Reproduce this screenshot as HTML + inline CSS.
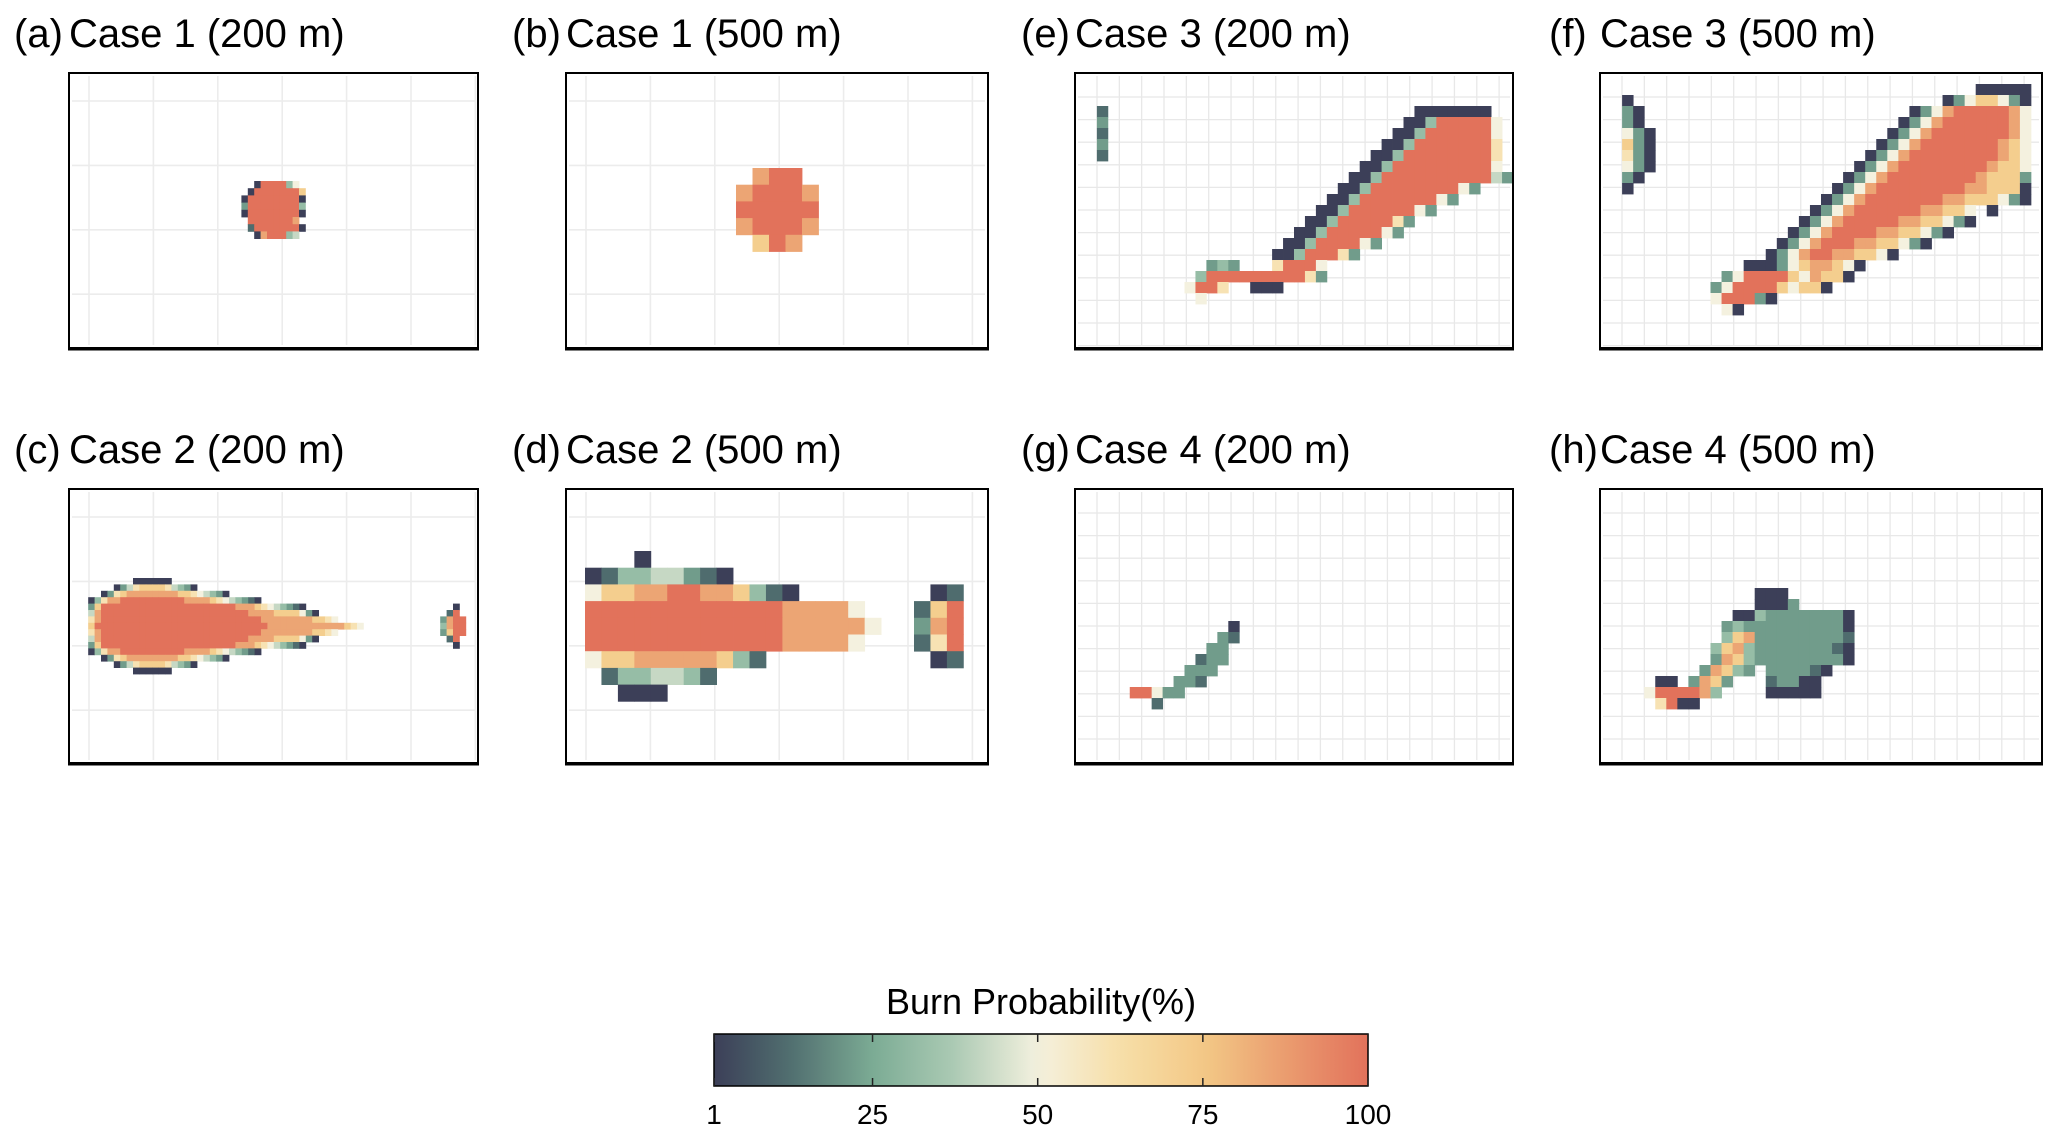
<!DOCTYPE html>
<html><head><meta charset="utf-8"><title>Burn probability panels</title>
<style>
html,body{margin:0;padding:0;background:#fff;}
svg{display:block;font-family:"Liberation Sans",Arial,sans-serif;}
</style></head>
<body>
<svg id="fig" width="2067" height="1141" viewBox="0 0 2067 1141" xmlns="http://www.w3.org/2000/svg">
<rect x="0" y="0" width="2067" height="1141" fill="#fff"/>
<defs>
<linearGradient id="cbgrad" x1="0" x2="1" y1="0" y2="0"></linearGradient>
</defs>
</svg>
<script>
// ---- data: colour scale ----
const colorStopValues = [1, 12, 25, 37, 50, 62, 75, 87, 100];
const colorStopColors = ["#3c3f58", "#4f6c6e", "#7bab94", "#aac9b3", "#f4f1df", "#f7dfaa", "#f3c986", "#eb9e70", "#e2725b"];
const codeKeys = ["0","1","2","3","4","5","6","7","8","9"];
const codeValues = [1, 12, 22, 32, 42, 50, 60, 72, 85, 100];
const colorbarTicks = [1, 25, 50, 75, 100];
const colorbarTitle = "Burn Probability(%)";

// ---- data: panel titles ----
const panelLetters = ["(a)","(b)","(e)","(f)","(c)","(d)","(g)","(h)"];
const panelTitles = ["Case 1 (200 m)","Case 1 (500 m)","Case 3 (200 m)","Case 3 (500 m)","Case 2 (200 m)","Case 2 (500 m)","Case 4 (200 m)","Case 4 (500 m)"];

// ---- data: burn probability cells as runs [row, col, codes] ----
const cellsA = [
 [0,3,"0999935"],[1,2,"099999997"],[2,1,"0999999990"],[3,1,"2999999993"],[4,1,"0999999990"],
 [5,2,"99999998"],[6,2,"199999990"],[7,3,"0899934"]
];
const cellsB = [
 [0,1,"899"],[1,0,"89998"],[2,0,"99999"],[3,0,"89998"],[4,1,"798"]
];
const cellsC = [
 [0,10,"000000"],[1,7,"0246777764320"],[2,5,"02678888888877654320"],
 [3,3,"036889999999999888876543210"],[4,3,"2799999999999999999999988876543210"],
 [5,3,"489999999999999999999999988887777520"],[6,3,"689999999999999999999999999888888887765"],
 [7,3,"7999999999999999999999999999888888888888765"],
 [8,3,"689999999999999999999999999888888887765"],[9,3,"489999999999999999999999988887777520"],
 [10,3,"2799999999999999999999988876543210"],[11,3,"036889999999999888876543210"],
 [12,5,"02678888888877654320"],[13,7,"0246777764320"],[14,10,"000000"],
 [4,60,"0"],[5,59,"19"],[6,58,"2899"],[7,58,"3899"],[8,58,"2799"],[9,59,"19"],[10,60,"0"]
];
const cellsD = [
 [0,3,"0"],[1,0,"013344210"],[2,0,"5778899887310"],[2,21,"01"],
 [3,0,"99999999999988885"],[3,20,"179"],
 [4,0,"999999999999888885"],[4,20,"289"],
 [5,0,"99999999999988885"],[5,20,"169"],
 [6,0,"57788888731"],[6,21,"01"],[7,1,"1334431"],[8,2,"000"]
];
const cellsE = [
 [3,2,"1"],[4,2,"2"],[5,2,"1"],[6,2,"2"],[7,2,"1"],
 [3,31,"0000000"],[4,30,"00399999"],[4,38,"5"],[5,29,"003999999"],[5,38,"5"],
 [6,28,"0039999999"],[6,38,"6"],[7,27,"00399999999"],[7,38,"6"],
 [8,26,"0039999999995"],[9,25,"003999999999942"],[10,24,"0039999999952"],
 [11,23,"003999999952"],[12,22,"00399999952"],[13,21,"0039999962"],
 [14,20,"0039999952"],[15,19,"003999952"],[16,18,"00399962"],
 [17,12,"232"],[17,18,"69995"],[18,11,"399999999962"],[19,10,"5996"],[19,16,"000"],[20,11,"5"]
];
const cellsF = [
 [2,2,"0"],[3,2,"20"],[4,2,"20"],[5,2,"520"],[6,2,"720"],[7,2,"620"],[8,2,"520"],[9,2,"20"],[10,2,"0"],
 [1,34,"00000"],[2,31,"02577520"],[3,28,"0258999998"],[3,38,"5"],
 [4,27,"02589999998"],[4,38,"5"],[5,26,"025899999998"],[5,38,"5"],
 [6,25,"0258999999987"],[6,38,"5"],[7,24,"02589999999987"],[7,38,"5"],
 [8,23,"025899999999877"],[8,38,"5"],[9,22,"0258999999998777"],[9,38,"2"],
 [10,21,"02589999999988777"],[10,38,"0"],[11,20,"025899999998877752"],[11,38,"0"],
 [12,19,"025899999988775"],[12,35,"0"],[13,18,"0258999998877520"],
 [14,17,"02589999887752"],[14,31,"0"],[15,16,"0258999887752"],[15,29,"0"],
 [16,15,"02589988775"],[16,26,"0"],[17,13,"0002578875"],[17,23,"0"],
 [18,11,"25999975877"],[18,22,"0"],[19,10,"2599997577"],[19,20,"0"],
 [20,10,"599920"],[21,11,"50"]
];
const cellsG = [
 [12,14,"0"],[13,13,"21"],[14,12,"22"],[15,11,"122"],[16,10,"222"],[17,9,"221"],
 [18,5,"99"],[18,7,"522"],[19,7,"1"]
];
const cellsH = [
 [9,14,"000"],[10,14,"000"],[10,17,"2"],[11,12,"00322222220"],
 [12,11,"232222222220"],[13,11,"378222222221"],[14,10,"3783222222210"],
 [15,10,"2873222222220"],[16,9,"28732"],[16,15,"222210"],
 [17,5,"00"],[17,8,"2872"],[17,15,"12200"],[18,4,"5999983"],[18,15,"00000"],
 [19,5,"6900"]
];
const panelCells = [cellsA, cellsB, cellsE, cellsF, cellsC, cellsD, cellsG, cellsH];

// ---- layout (not data) ----
const NS = "http://www.w3.org/2000/svg";
const svg = document.getElementById("fig");
const panels = [
 {x:69,y:73,w:409,h:275,lx:14,fine:false,gx0:235,gy0:181,cw:6.4,ch:7.2},
 {x:566,y:73,w:422,h:275,lx:512,fine:false,gx0:736,gy0:168,cw:16.5,ch:16.7},
 {x:1075,y:73,w:438,h:275,lx:1021,fine:true,gx0:1075,gy0:73,cw:10.95,ch:11},
 {x:1600,y:73,w:442,h:275,lx:1549,fine:true,gx0:1600,gy0:73,cw:11.05,ch:11},
 {x:69,y:489,w:409,h:274,lx:14,fine:false,gx0:69,gy0:578,cw:6.4,ch:6.4},
 {x:566,y:489,w:422,h:274,lx:512,fine:false,gx0:585,gy0:551,cw:16.45,ch:16.7},
 {x:1075,y:489,w:438,h:274,lx:1021,fine:true,gx0:1075,gy0:489,cw:10.95,ch:11},
 {x:1600,y:489,w:442,h:274,lx:1549,fine:true,gx0:1600,gy0:489,cw:11.05,ch:11}
];
const panelNames = ["case1-200m","case1-500m","case3-200m","case3-500m","case2-200m","case2-500m","case4-200m","case4-500m"];

function hex2rgb(h){return [parseInt(h.slice(1,3),16),parseInt(h.slice(3,5),16),parseInt(h.slice(5,7),16)];}
function colorFor(v){
  for(let i=0;i<colorStopValues.length-1;i++){
    const a=colorStopValues[i], b=colorStopValues[i+1];
    if(v<=b || i===colorStopValues.length-2){
      const t=Math.max(0,Math.min(1,(v-a)/(b-a)));
      const c1=hex2rgb(colorStopColors[i]), c2=hex2rgb(colorStopColors[i+1]);
      return "rgb("+c1.map((c,k)=>Math.round(c+(c2[k]-c)*t)).join(",")+")";
    }
  }
}
function el(tag, attrs){const e=document.createElementNS(NS,tag);for(const k in attrs)e.setAttribute(k,attrs[k]);return e;}

panels.forEach((p,i)=>{
  const g=el("g",{});
  
  
  svg.appendChild(g);
  const lt=el("text",{x:p.lx,y:p.y-26,"font-size":40,fill:"#000"});
  lt.textContent=panelLetters[i];
  
  
  g.appendChild(lt);
  const tt=el("text",{x:p.x,y:p.y-26,"font-size":40,fill:"#000"});
  tt.textContent=panelTitles[i];
  
  
  g.appendChild(tt);
  const sx = p.fine ? 22.34 : 64.4, sy = p.fine ? 22.6 : 64.4;
  const ox = p.fine ? 22 : 20, oy = p.fine ? 24 : 28;
  const grid=el("g",{stroke:p.fine?"#e8e8e8":"#ececec","stroke-width":p.fine?1.3:1.6});
  
  
  for(let x=p.x+ox;x<p.x+p.w-2;x+=sx) grid.appendChild(el("line",{x1:x,x2:x,y1:p.y+3,y2:p.y+p.h-3}));
  for(let y=p.y+oy;y<p.y+p.h-2;y+=sy) grid.appendChild(el("line",{x1:p.x+3,x2:p.x+p.w-3,y1:y,y2:y}));
  g.appendChild(grid);
  const cg=el("g",{});
  
  
  panelCells[i].forEach(run=>{
    const r=run[0], c0=run[1], s=run[2];
    for(let k=0;k<s.length;k++){
      const ch=s[k]; const idx=codeKeys.indexOf(ch);
      if(idx<0) continue;
      const v=codeValues[idx];
      const rc=el("rect",{x:(p.gx0+(c0+k)*p.cw).toFixed(2),y:(p.gy0+r*p.ch).toFixed(2),width:(p.cw+0.4).toFixed(2),height:(p.ch+0.4).toFixed(2),fill:colorFor(v)});
      
      
      cg.appendChild(rc);
    }
  });
  g.appendChild(cg);
  const fr=el("rect",{x:p.x,y:p.y,width:p.w,height:p.h,fill:"none",stroke:"#000","stroke-width":2});
  
  
  g.appendChild(fr);
  const ax=el("line",{x1:p.x-1,x2:p.x+p.w+1,y1:p.y+p.h+1,y2:p.y+p.h+1,stroke:"#000","stroke-width":3});
  
  
  g.appendChild(ax);
});

// ---- colorbar ----
const cb={x:714,y:1034,w:654,h:52};
const grad=document.getElementById("cbgrad");
for(let v=1;v<=100;v+=3){
  const st=el("stop",{offset:((v-1)/99).toFixed(3),"stop-color":colorFor(v)});
  grad.appendChild(st);
}
grad.appendChild(el("stop",{offset:"1","stop-color":colorFor(100)}));
const cbg=el("g",{});


svg.appendChild(cbg);
const ctitle=el("text",{x:cb.x+cb.w/2,y:1014,"font-size":36,"text-anchor":"middle",fill:"#000"});
ctitle.textContent=colorbarTitle;


cbg.appendChild(ctitle);
const cbar=el("rect",{x:cb.x,y:cb.y,width:cb.w,height:cb.h,fill:"url(#cbgrad)",stroke:"#000","stroke-width":1.5});


cbg.appendChild(cbar);
function cbX(v){return cb.x+(v-1)/99*cb.w;}
colorbarTicks.forEach(t=>{
  const x=cbX(t);
  const t1=el("line",{x1:x,x2:x,y1:cb.y,y2:cb.y+8,stroke:"#222","stroke-width":1.5});
  
  
  cbg.appendChild(t1);
  const t2=el("line",{x1:x,x2:x,y1:cb.y+cb.h-8,y2:cb.y+cb.h,stroke:"#222","stroke-width":1.5});
  
  
  cbg.appendChild(t2);
  const lb=el("text",{x:x,y:1124,"font-size":28,"text-anchor":"middle",fill:"#000"});
  lb.textContent=String(t);
  
  
  cbg.appendChild(lb);
});
</script>
</body></html>
